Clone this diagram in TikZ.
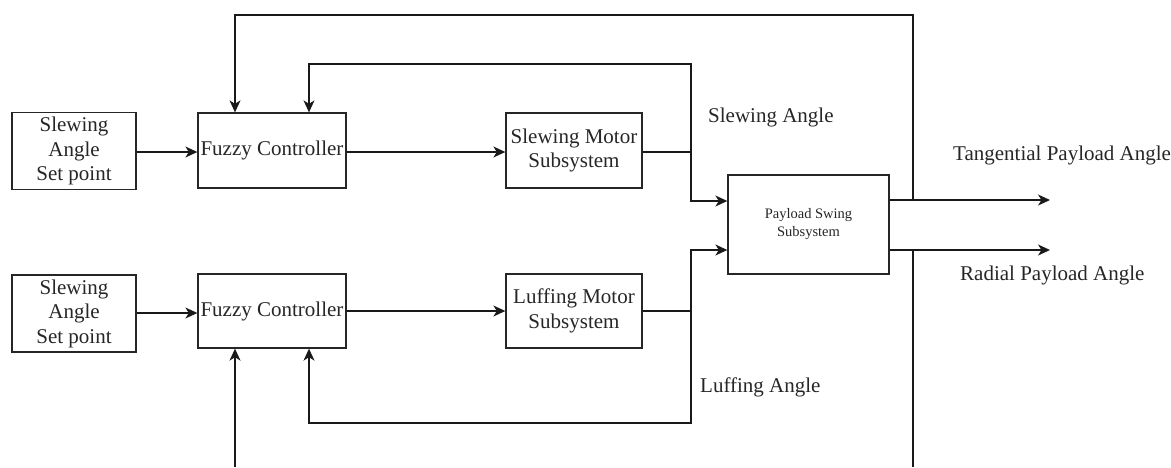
\documentclass[tikz,border=0pt]{standalone}
\usepackage{fontspec}
\setmainfont{Liberation Serif}
\usetikzlibrary{arrows.meta}
\begin{document}
\begin{tikzpicture}[x=1pt,y=-1pt,
  blk/.style={draw=black!85, line width=1.3pt, inner sep=0pt, align=center,
    font=\fontsize{21}{24.5}\selectfont, text=black!85},
  lbl/.style={inner sep=0pt, font=\fontsize{21}{24.5}\selectfont, text=black!85},
  wire/.style={draw=black!90, line width=1.3pt},
  arr/.style={wire, -{Stealth[length=12pt,width=11pt,inset=3.5pt]}}]
\useasboundingbox (0,0) rectangle (1171,467);
% blocks
\node[blk, minimum width=124pt, minimum height=77pt] (sp1) at (74,151) {Slewing\\Angle\\Set point};
\node[blk, minimum width=148pt, minimum height=75pt] (fc1) at (272,150.5) {Fuzzy Controller};
\node[blk, minimum width=136pt, minimum height=75pt] (sm) at (574,150.5) {Slewing Motor\\Subsystem};
\node[blk, minimum width=161pt, minimum height=99pt, font=\fontsize{14.5}{18}\selectfont] (ps) at (808.5,224.5) {Payload Swing\\Subsystem};
\node[blk, minimum width=124pt, minimum height=77pt] (sp2) at (74,313.5) {Slewing\\Angle\\Set point};
\node[blk, minimum width=148pt, minimum height=74pt] (fc2) at (272,311) {Fuzzy Controller};
\node[blk, minimum width=136pt, minimum height=74pt] (lm) at (574,311) {Luffing Motor\\Subsystem};
% labels
\node[lbl, anchor=base west] (lsa) at (708,122) {Slewing Angle};
\node[lbl, anchor=base west] (lla) at (700,392) {Luffing Angle};
\node[lbl, anchor=base west] (ltp) at (953,160) {Tangential Payload Angle};
\node[lbl, anchor=base west] (lrp) at (960,280) {Radial Payload Angle};
% coordinates
\coordinate (j1) at (691,152);
\coordinate (j2) at (691,311);
\coordinate (top) at (913,15);
\coordinate (o1) at (1050,200);
\coordinate (o2) at (1050,250);
\coordinate (fb1) at (309,64);
\coordinate (fb2) at (309,423);
\coordinate (bot1) at (235,467);
\coordinate (bot2) at (913,467);
% top row
\draw[arr] (sp1.east |- 0,152) -- (fc1.west |- 0,152);
\draw[arr] (fc1.east |- 0,152) -- (sm.west |- 0,152);
\draw[wire] (sm.east |- j1) -- (j1);
\draw[arr] (j1) |- (ps.west |- 0,201);
\draw[arr] (j1) |- (fb1) -- (fb1 |- fc1.north);
% bottom row
\draw[arr] (sp2.east |- 0,313) -- (fc2.west |- 0,313);
\draw[arr] (fc2.east |- 0,311) -- (lm.west |- 0,311);
\draw[wire] (lm.east |- j2) -- (j2);
\draw[arr] (j2) |- (ps.west |- 0,250);
\draw[arr] (j2) |- (fb2) -- (fb2 |- fc2.south);
% outputs
\draw[arr] (ps.east |- o1) -- (o1);
\draw[arr] (ps.east |- o2) -- (o2);
% outer loops
\draw[arr] (top |- o1) -- (top) -- (235,15) -- (235,0 |- fc1.north);
\draw[wire] (913,250) -- (bot2);
\draw[arr] (bot1) -- (bot1 |- fc2.south);
\end{tikzpicture}
\end{document}
